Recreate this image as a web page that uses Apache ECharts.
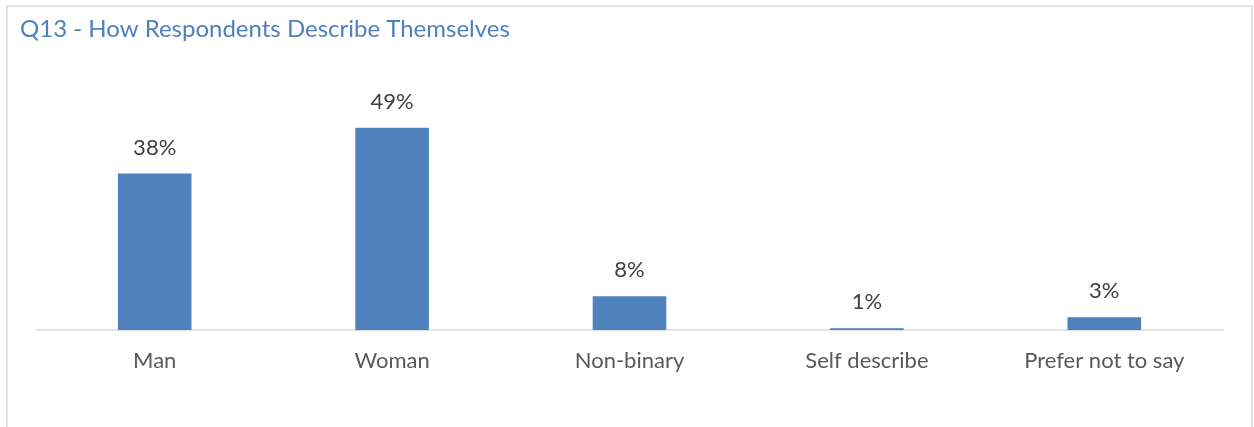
<!DOCTYPE html>
<html>
<head>
<meta charset="utf-8">
<script src="https://cdn.jsdelivr.net/npm/echarts@6/dist/echarts.min.js"></script>
<style>
html,body{margin:0;padding:0;background:#fff;}
#c{width:1254px;height:427px;}
</style>
</head>
<body>
<div id="c"></div>
<script>
var categories = ['Man', 'Woman', 'Non-binary', 'Self describe', 'Prefer not to say'];
var values = [38.0, 49.1, 8.2, 0.4, 3.1];
var valueLabels = ['38%', '49%', '8%', '1%', '3%'];
var chartTitle = 'Q13 - How Respondents Describe Themselves';

var chart = echarts.init(document.getElementById('c'));
var FONT = 'Lato';
chart.setOption({
  animation: false,
  backgroundColor: '#ffffff',
  graphic: [{
    type: 'rect',
    shape: { x: 7, y: 6, width: 1245, height: 460 },
    style: { fill: 'none', stroke: '#d9d9d9', lineWidth: 1.5 },
    silent: true
  }],
  title: {
    text: chartTitle,
    left: 15,
    top: 12,
    textStyle: { fontFamily: FONT, fontSize: 24, fontWeight: 'normal', color: '#4f81bd' }
  },
  grid: { left: 36, right: 31, top: 83, bottom: 97, containLabel: false },
  xAxis: {
    type: 'category',
    data: categories,
    axisLine: { show: true, lineStyle: { color: '#d9d9d9', width: 1.5 } },
    axisTick: { show: false },
    axisLabel: { margin: 20, fontFamily: FONT, fontSize: 22, color: '#595959' }
  },
  yAxis: {
    type: 'value',
    min: 0,
    max: 60,
    show: false,
    splitLine: { show: false }
  },
  series: [{
    type: 'bar',
    data: values,
    barWidth: '31%',
    itemStyle: { color: '#4f81bd' },
    label: {
      show: true,
      position: 'top',
      distance: 15,
      fontFamily: FONT,
      fontSize: 22,
      color: '#404040',
      formatter: function (p) { return valueLabels[p.dataIndex]; }
    }
  }]
});
</script>
</body>
</html>
